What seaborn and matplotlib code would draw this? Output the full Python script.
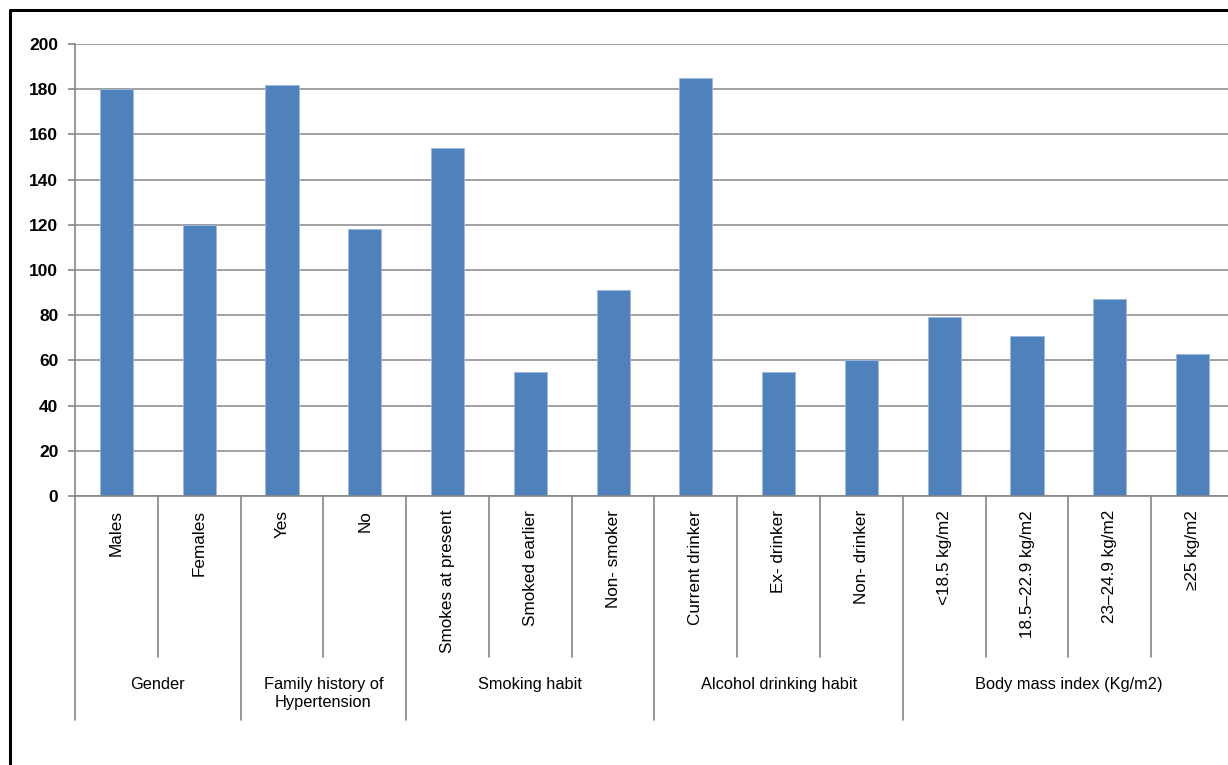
import matplotlib
matplotlib.use("Agg")
import matplotlib.pyplot as plt
import matplotlib.transforms as mtransforms
from matplotlib import font_manager
from matplotlib.lines import Line2D
import seaborn as sns
import pandas as pd

categories = ["Males", "Females", "Yes", "No", "Smokes at present", "Smoked earlier",
              "Non- smoker", "Current drinker", "Ex- drinker", "Non- drinker",
              "<18.5 kg/m2", "18.5\u201322.9 kg/m2", "23\u201324.9 kg/m2", "\u226525 kg/m2"]
values = [180, 120, 182, 118, 154, 55, 91, 185, 55, 60, 79, 71, 87, 63]
groups = ["Gender", "Family history of\nHypertension", "Smoking habit",
          "Alcohol drinking habit", "Body mass index (Kg/m2)"]
group_sizes = [2, 2, 3, 3, 4]
y_ticks = [0, 20, 40, 60, 80, 100, 120, 140, 160, 180, 200]

sns.set_theme(style="white")
names = {f.name for f in font_manager.fontManager.ttflist}
narrow = "Liberation Sans Narrow" if "Liberation Sans Narrow" in names else "Liberation Sans"
plt.rcParams["font.family"] = [narrow, "DejaVu Sans"]

W, H = 1228, 765
fig = plt.figure(figsize=(W / 100, H / 100), dpi=100)
ax_left, ax_right, ax_bottom, ax_top = 75, 1234, 496, 44
ax = fig.add_axes([ax_left / W, 1 - ax_bottom / H, (ax_right - ax_left) / W, (ax_bottom - ax_top) / H])

df = pd.DataFrame({"category": categories, "value": values})
sns.barplot(data=df, x="category", y="value", color="#4F81BD", width=0.4,
            edgecolor="#9DB9DD", linewidth=0.6, saturation=1, ax=ax)

ax.set_xlim(-0.5, len(categories) - 0.5)
ax.set_ylim(0, 200)
ax.set_yticks(y_ticks)
ax.set_yticklabels([str(v) for v in y_ticks], fontsize=12.5, fontweight="bold", color="black")
ax.tick_params(axis="y", length=5, width=1.2, color="#868686", pad=7, left=True)
ax.tick_params(axis="x", length=0, labelbottom=False)
ax.set_xlabel("")
ax.set_ylabel("")
ax.yaxis.grid(True, color="#868686", linewidth=1.1)
ax.set_axisbelow(True)
for s in ["top", "right"]:
    ax.spines[s].set_visible(False)
for s in ["left", "bottom"]:
    ax.spines[s].set_color("#868686")
    ax.spines[s].set_linewidth(1.2)

trans = mtransforms.blended_transform_factory(ax.transData, ax.transAxes)
axh = ax_bottom - ax_top
inner_end = -(657 - ax_bottom) / axh
outer_end = -(720 - ax_bottom) / axh

# category labels
for i, c in enumerate(categories):
    ax.text(i, -(510 - ax_bottom) / axh, c, transform=trans, rotation=90,
            ha="center", va="top", fontsize=12.3, color="black")

# dividers
bounds = [0]
for g in group_sizes:
    bounds.append(bounds[-1] + g)
for k in range(len(categories) + 1):
    end = outer_end if k in bounds else inner_end
    ax.plot([k - 0.5, k - 0.5], [0, end], transform=trans, color="#868686",
            linewidth=1.2, clip_on=False)

# group labels
for gi, g in enumerate(groups):
    mid = (bounds[gi] + bounds[gi + 1] - 1) / 2
    ax.text(mid, -(677 - ax_bottom) / axh, g, transform=trans, ha="center", va="top",
            fontsize=11.8, color="black", linespacing=1.25)

# outer border (left and top visible)
fig.add_artist(Line2D([9.5 / W, 9.5 / W], [0, 1 - 9.5 / H], transform=fig.transFigure,
                      color="black", linewidth=2.2))
fig.add_artist(Line2D([9.5 / W, 1], [1 - 9.5 / H, 1 - 9.5 / H], transform=fig.transFigure,
                      color="black", linewidth=2.2))

fig.savefig("out.png", dpi=100)
